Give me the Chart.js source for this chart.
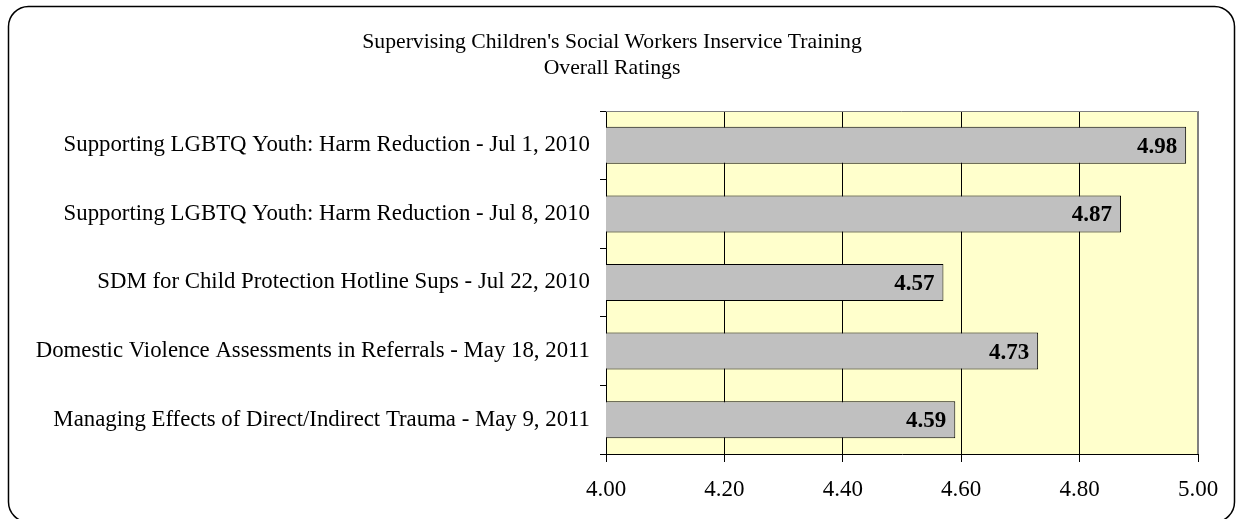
<!DOCTYPE html>
<html>
<head>
<meta charset="utf-8">
<script src="https://cdn.jsdelivr.net/npm/chart.js@4.4.0/dist/chart.umd.min.js"></script>
<style>
  html, body { margin: 0; padding: 0; background: #fff; }
  #wrap { width: 1236px; height: 519px; position: relative; }
</style>
</head>
<body>
<div id="wrap"><canvas id="c" width="1236" height="519"></canvas></div>
<script>
const titleLines = ["Supervising Children's Social Workers Inservice Training", "Overall Ratings"];
const categories = [
  "Supporting LGBTQ Youth: Harm Reduction - Jul 1, 2010",
  "Supporting LGBTQ Youth: Harm Reduction - Jul 8, 2010",
  "SDM for Child Protection Hotline Sups - Jul 22, 2010",
  "Domestic Violence Assessments in Referrals - May 18, 2011",
  "Managing Effects of Direct/Indirect Trauma - May 9, 2011"
];
const ratings = [4.98, 4.87, 4.57, 4.73, 4.59];
const xMin = 4.0, xMax = 5.0, xStep = 0.2;

const FONT = "'Liberation Serif', 'Times New Roman', serif";

const frame = {
  id: 'frame',
  beforeDraw(chart) {
    const ctx = chart.ctx, a = chart.chartArea;
    ctx.save();
    ctx.fillStyle = '#FFFFCC';
    ctx.fillRect(a.left, a.top, a.right - a.left, a.bottom - a.top);
    // title
    ctx.fillStyle = '#000';
    ctx.font = "21.7px " + FONT;
    ctx.textAlign = 'center';
    ctx.textBaseline = 'middle';
    titleLines.forEach((t, i) => ctx.fillText(t, 612, 42 + i * 26));
    ctx.restore();
  },
  afterDraw(chart) {
    const ctx = chart.ctx, a = chart.chartArea;
    ctx.save();
    // plot top/right border (gray)
    ctx.strokeStyle = '#808080';
    ctx.lineWidth = 1;
    ctx.beginPath();
    ctx.moveTo(a.left, a.top + 0.5);
    ctx.lineTo(a.right - 0.5, a.top + 0.5);
    ctx.lineTo(a.right - 0.5, a.bottom);
    ctx.stroke();
    // outer rounded border
    ctx.strokeStyle = '#000';
    ctx.lineWidth = 1.5;
    const x = 8.5, y = 6.5, w = 1234.5 - 8.5, h = 522 - 6.5, r = 20;
    ctx.beginPath();
    ctx.moveTo(x + r, y);
    ctx.lineTo(x + w - r, y);
    ctx.arcTo(x + w, y, x + w, y + r, r);
    ctx.lineTo(x + w, y + h - r);
    ctx.arcTo(x + w, y + h, x + w - r, y + h, r);
    ctx.lineTo(x + r, y + h);
    ctx.arcTo(x, y + h, x, y + h - r, r);
    ctx.lineTo(x, y + r);
    ctx.arcTo(x, y, x + r, y, r);
    ctx.closePath();
    ctx.stroke();
    ctx.restore();
  },
  afterDatasetsDraw(chart) {
    const ctx = chart.ctx;
    const meta = chart.getDatasetMeta(0);
    ctx.save();
    ctx.font = "bold 23px " + FONT;
    ctx.fillStyle = '#000';
    ctx.textAlign = 'right';
    ctx.textBaseline = 'middle';
    meta.data.forEach((bar, i) => {
      ctx.fillText(ratings[i].toFixed(2), bar.x - 9, bar.y + 1.5);
    });
    ctx.restore();
  }
};

new Chart(document.getElementById('c'), {
  type: 'bar',
  data: {
    labels: categories,
    datasets: [{
      data: ratings,
      backgroundColor: '#C0C0C0',
      borderColor: '#000',
      borderWidth: 1,
      borderSkipped: false,
      categoryPercentage: 1.0,
      barPercentage: 0.54
    }]
  },
  options: {
    indexAxis: 'y',
    responsive: false,
    animation: false,
    layout: { padding: { left: 0, right: 38, top: 111, bottom: 0 } },
    plugins: {
      legend: { display: false },
      tooltip: { enabled: false },
      title: { display: false }
    },
    scales: {
      x: {
        min: xMin, max: xMax,
        afterFit(s) { s.height = 65; },
        ticks: {
          stepSize: xStep,
          color: '#000',
          font: { family: FONT, size: 23 },
          padding: 14,
          callback: v => Number(v).toFixed(2)
        },
        grid: {
          color: ctx => (ctx.tick && Math.abs(ctx.tick.value - xMax) < 1e-6) ? '#808080' : '#000',
          tickColor: '#000',
          tickLength: 8,
          lineWidth: 1
        },
        border: { color: '#000', width: 1 }
      },
      y: {
        afterFit(s) { s.width = 606; },
        ticks: {
          color: '#000',
          font: { family: FONT, size: 22.8 },
          padding: 10
        },
        grid: {
          offset: true,
          drawOnChartArea: false,
          tickColor: '#000',
          tickLength: 6
        },
        border: { color: '#000', width: 1 }
      }
    }
  },
  plugins: [frame]
});
</script>
</body>
</html>
